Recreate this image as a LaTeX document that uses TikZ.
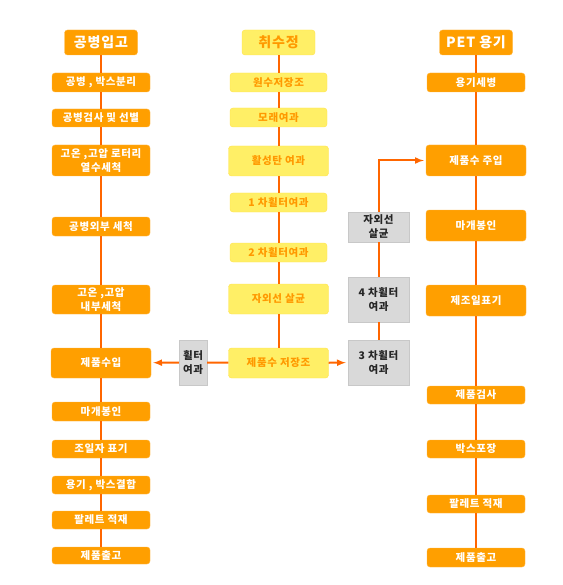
\documentclass[tikz,border=0pt]{standalone}
\usepackage{fontspec}
\setmainfont{Noto Sans CJK KR}[LetterSpace=6]
\usetikzlibrary{arrows}

\definecolor{boxorange}{HTML}{FF9F00}
\definecolor{edgeorange}{HTML}{FFB640}
\definecolor{boxyellow}{HTML}{FFEF66}
\definecolor{edgeyellow}{HTML}{FFE24A}
\definecolor{textyellow}{HTML}{FF9900}
\definecolor{boxgray}{HTML}{D9D9D9}
\definecolor{edgegray}{HTML}{C8C8C8}
\definecolor{lineorange}{HTML}{FF6600}

\begin{document}
\begin{tikzpicture}[x=1pt, y=-1pt,
    flow/.style={draw=lineorange, line width=2pt},
    flowarrow/.style={flow, -latex, shorten >=2pt},
    basebox/.style={rounded corners=3pt, inner sep=0pt, align=center,
        font=\fontsize{10.5}{14}\selectfont\bfseries},
    obox/.style={basebox, fill=boxorange, draw=edgeorange, text=white},
    ybox/.style={basebox, fill=boxyellow, draw=edgeyellow, text=textyellow},
    gbox/.style={basebox, rounded corners=0pt, fill=boxgray, draw=edgegray,
        text=black!85, minimum width=61pt, minimum height=45pt},
    head/.style={minimum width=73pt, minimum height=25pt,
        font=\fontsize{14}{16}\selectfont\bfseries},
]
\def\colL{101}
\def\colM{278.5}
\def\colG{378.5}
\def\colR{476}

    \useasboundingbox (0,0) rectangle (562,585);

    %Empty bottle line
    \node[obox, head] (hdrL) at (\colL,42.5) {공병입고};
    \node[obox, minimum width=98pt, minimum height=19pt] (L1) at (\colL,82.5) {공병 , 박스분리};
    \node[obox, minimum width=98pt, minimum height=18pt] (L2) at (\colL,118) {공병검사 및 선별};
    \node[obox, minimum width=98pt, minimum height=31pt] (L3) at (\colL,160.5) {고온 ,고압 로터리\\열수세척};
    \node[obox, minimum width=98pt, minimum height=19pt] (L4) at (\colL,226.5) {공병외부 세척};
    \node[obox, minimum width=98pt, minimum height=29pt] (L5) at (\colL,299.5) {고온 ,고압\\내부세척};
    \node[obox, minimum width=100pt, minimum height=30pt] (L6) at (\colL,363) {제품수입};
    \node[obox, minimum width=98pt, minimum height=19pt] (L7) at (\colL,411.5) {마개봉인};
    \node[obox, minimum width=98pt, minimum height=18pt] (L8) at (\colL,449) {조일자 표기};
    \node[obox, minimum width=98pt, minimum height=18pt] (L9) at (\colL,485) {용기 , 박스결합};
    \node[obox, minimum width=98pt, minimum height=18pt] (L10) at (\colL,520) {팔레트 적재};
    \node[obox, minimum width=98pt, minimum height=17pt] (L11) at (\colL,555.5) {제품출고};

    %Water line
    \node[ybox, head] (hdrM) at (\colM,42.5) {취수정};
    \node[ybox, minimum width=97pt, minimum height=19pt] (M1) at (\colM,82.5) {원수저장조};
    \node[ybox, minimum width=97pt, minimum height=19pt] (M2) at (\colM,117.5) {모래여과};
    \node[ybox, minimum width=100pt, minimum height=30pt] (M3) at (\colM,161) {활성탄 여과};
    \node[ybox, minimum width=97pt, minimum height=19pt] (M4) at (\colM,202.5) {1 차휠터여과};
    \node[ybox, minimum width=97pt, minimum height=19pt] (M5) at (\colM,252.5) {2 차휠터여과};
    \node[ybox, minimum width=100pt, minimum height=30pt] (M6) at (\colM,299) {자외선 살균};
    \node[ybox, minimum width=100pt, minimum height=30pt] (M7) at (\colM,363) {제품수 저장조};

    %Filters
    \node[gbox, minimum width=28pt] (F1) at (193,362.5) {휠터\\여과};
    \node[gbox] (G3) at (\colG,362.5) {3 차휠터\\여과};
    \node[gbox] (G4) at (\colG,299.5) {4 차휠터\\여과};
    \node[gbox, minimum height=30pt] (G5) at (\colG,227) {자외선\\살균};

    %PET line
    \node[obox, head] (hdrR) at (\colR,42.5) {PET 용기};
    \node[obox, minimum width=98pt, minimum height=19pt] (R1) at (\colR,82.5) {용기세병};
    \node[obox, minimum width=100pt, minimum height=31pt] (R2) at (\colR,160.5) {제품수 주입};
    \node[obox, minimum width=100pt, minimum height=31pt] (R3) at (\colR,225.5) {마개봉인};
    \node[obox, minimum width=100pt, minimum height=31pt] (R4) at (\colR,300.5) {제조일표기};
    \node[obox, minimum width=98pt, minimum height=18pt] (R5) at (\colR,395) {제품검사};
    \node[obox, minimum width=98pt, minimum height=18pt] (R6) at (\colR,449) {박스포장};
    \node[obox, minimum width=98pt, minimum height=18pt] (R7) at (\colR,504) {팔레트 적재};
    \node[obox, minimum width=98pt, minimum height=19pt] (R8) at (\colR,557.5) {제품출고};

    %Connectors
    \foreach \a/\b in {hdrL/L1, L1/L2, L2/L3, L3/L4, L4/L5, L5/L6, L6/L7, L7/L8, L8/L9, L9/L10, L10/L11,
        hdrM/M1, M1/M2, M2/M3, M3/M4, M4/M5, M5/M6, M6/M7,
        hdrR/R1, R1/R2, R2/R3, R3/R4, R4/R5, R5/R6, R6/R7, R7/R8,
        G3/G4, G4/G5}
        \draw[flow] (\a) -- (\b);
    \draw[flow] (M7) -- (F1);
    \draw[flowarrow] (F1) -- (L6);
    \draw[flowarrow] (M7) -- (G3);
    \draw[flowarrow] (G5.north) |- (R2.west);
\end{tikzpicture}
\end{document}
